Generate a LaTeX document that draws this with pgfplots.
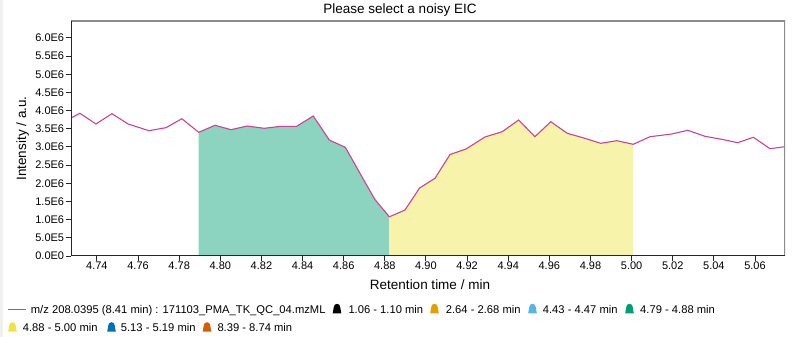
\documentclass[border=0pt]{standalone}
\usepackage{fontspec}
\setmainfont{Liberation Sans}
\usepackage{pgfplots}
\pgfplotsset{compat=1.18}
\definecolor{eicline}{RGB}{208,64,150}
\definecolor{greenfill}{RGB}{140,211,192}
\definecolor{yellowfill}{RGB}{248,243,170}
\definecolor{okorange}{RGB}{230,159,0}
\definecolor{oksky}{RGB}{86,180,233}
\definecolor{okgreen}{RGB}{0,158,115}
\definecolor{okyellow}{RGB}{240,228,66}
\definecolor{okblue}{RGB}{0,114,178}
\definecolor{okverm}{RGB}{213,94,0}
\definecolor{framegray}{RGB}{140,140,140}
\newcommand{\bell}[3]{\fill[#3] (#1-4.3,#2) -- (#1-3.2,#2+6.3) arc[start angle=180,end angle=0,radius=3.2] -- (#1+4.3,#2) -- cycle;}
\begin{document}
\begin{tikzpicture}[x=1pt,y=1pt]
\useasboundingbox (0,0) rectangle (795,337);
\fill[gray!12] (0,0) rectangle (3,337);
\begin{axis}[
  at={(71pt,81pt)}, anchor=south west, scale only axis,
  width=714pt, height=235pt,
  xmin=4.7274, xmax=5.0746, ymin=0, ymax=6.465,
  axis line style={draw=none},
  tick pos=left, tick align=outside, major tick length=5pt,
  tick style={black!85, line width=0.9pt},
  xtick={4.74,4.76,4.78,4.80,4.82,4.84,4.86,4.88,4.90,4.92,4.94,4.96,4.98,5.00,5.02,5.04,5.06},
  xticklabels={4.74,4.76,4.78,4.80,4.82,4.84,4.86,4.88,4.90,4.92,4.94,4.96,4.98,5.00,5.02,5.04,5.06},
  ytick={0,0.5,1,1.5,2,2.5,3,3.5,4,4.5,5,5.5,6},
  yticklabels={0.0E0,5.0E5,1.0E6,1.5E6,2.0E6,2.5E6,3.0E6,3.5E6,4.0E6,4.5E6,5.0E6,5.5E6,6.0E6},
  ticklabel style={font=\fontsize{11}{13}\selectfont, inner sep=0pt},
  yticklabel style={xshift=-1.7pt},
  xticklabel style={yshift=-1pt},
  clip=true,
]
\addplot[fill=greenfill, draw=none] coordinates {
(4.7895,3.403) (4.7974,3.596) (4.8052,3.475) (4.8131,3.576) (4.8214,3.513)
(4.8293,3.568) (4.8371,3.568) (4.8452,3.851) (4.8530,3.191) (4.8608,2.990)
(4.8684,2.228) (4.8752,1.554) (4.8822,1.078)} \closedcycle;
\addplot[fill=yellowfill, draw=none] coordinates {
(4.8822,1.078) (4.8898,1.265) (4.8969,1.871) (4.9044,2.138) (4.9117,2.792)
(4.9195,2.944) (4.9287,3.274) (4.9371,3.420) (4.9451,3.741) (4.9530,3.282)
(4.9607,3.695) (4.9687,3.376) (4.9768,3.246) (4.9850,3.100) (4.9928,3.172)
(5.0008,3.073)} \closedcycle;
\addplot[eicline, line width=1.1pt] coordinates {
(4.7274,3.796) (4.7317,3.926) (4.7395,3.631) (4.7473,3.915) (4.7552,3.631)
(4.7653,3.447) (4.7736,3.530) (4.7813,3.777) (4.7895,3.403) (4.7974,3.596)
(4.8052,3.475) (4.8131,3.576) (4.8214,3.513) (4.8293,3.568) (4.8371,3.568)
(4.8452,3.851) (4.8530,3.191) (4.8608,2.990) (4.8684,2.228) (4.8752,1.554)
(4.8822,1.078) (4.8898,1.265) (4.8969,1.871) (4.9044,2.138) (4.9117,2.792)
(4.9195,2.944) (4.9287,3.274) (4.9371,3.420) (4.9451,3.741) (4.9530,3.282)
(4.9607,3.695) (4.9687,3.376) (4.9768,3.246) (4.9850,3.100) (4.9928,3.172)
(5.0008,3.073) (5.0090,3.282) (5.0195,3.356) (5.0273,3.458) (5.0357,3.293)
(5.0438,3.210) (5.0516,3.117) (5.0592,3.266) (5.0673,2.952) (5.0746,3.007)};
\draw[framegray, line width=1.2pt] (rel axis cs:0,0) rectangle (rel axis cs:1,1);
\draw[black!85, line width=1.6pt] (rel axis cs:0,1) -- (rel axis cs:0,0) -- (rel axis cs:1,0);
\end{axis}
\node[anchor=base, inner sep=0pt, font=\fontsize{13.5}{16}\selectfont] at (400,323.7) {Please select a noisy EIC};
\node[anchor=base, inner sep=0pt, font=\fontsize{13.5}{16}\selectfont] at (430,47) {Retention time / min};
\node[anchor=base, inner sep=0pt, rotate=90, font=\fontsize{13.5}{16}\selectfont] at (26,198.5) {Intensity / a.u.};
\begin{scope}[every node/.style={anchor=base west, inner sep=0pt, font=\fontsize{11.2}{13}\selectfont}]
\draw[eicline, line width=1.1pt] (8,27.7) -- (26,27.7);
\node at (30.7,23.7) {m/z 208.0395 (8.41 min) : 171103\_PMA\_TK\_QC\_04.mzML};
\bell{337}{23.7}{black}
\node at (348.3,23.7) {1.06 - 1.10 min};
\bell{434.5}{23.7}{okorange}
\node at (445.7,23.7) {2.64 - 2.68 min};
\bell{532.5}{23.7}{oksky}
\node at (542.7,23.7) {4.43 - 4.47 min};
\bell{629.5}{23.7}{okgreen}
\node at (640,23.7) {4.79 - 4.88 min};
\bell{12.5}{5.3}{okyellow}
\node at (22.7,5.3) {4.88 - 5.00 min};
\bell{111.5}{5.3}{okblue}
\node at (120.7,5.3) {5.13 - 5.19 min};
\bell{207}{5.3}{okverm}
\node at (217.3,5.3) {8.39 - 8.74 min};
\end{scope}
\end{tikzpicture}
\end{document}
